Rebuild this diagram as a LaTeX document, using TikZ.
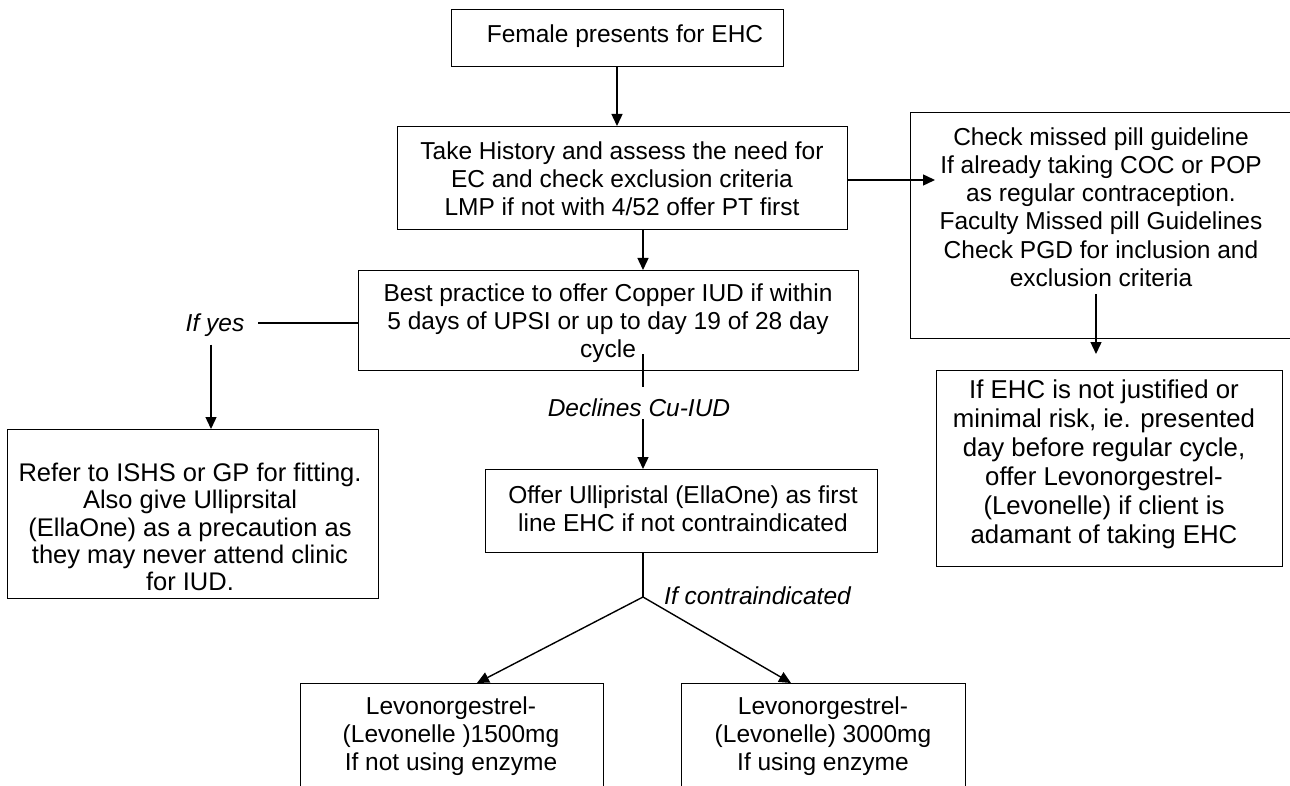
\documentclass[tikz,border=0pt]{standalone}
\usepackage{fontspec}
\setmainfont{Liberation Sans}
\usetikzlibrary{arrows.meta,calc}
\begin{document}
\begin{tikzpicture}[x=1pt,y=-1pt,
  box/.style={draw, line width=1.3pt, inner sep=0pt, anchor=north west},
  txt/.style={align=center, font=\fontsize{24.5}{28.2}\selectfont, inner sep=0pt},
  lbl/.style={font=\fontsize{24.5}{28.2}\selectfont\itshape, inner sep=2pt},
  arr/.style={line width=1.4pt, -{Triangle[length=12pt,width=11pt]}},
  ln/.style={line width=1.4pt}]
\useasboundingbox (0,0) rectangle (1290,786);

% boxes
\node[box, minimum width=332pt, minimum height=57pt] (b1) at (451,9) {};
\node[box, minimum width=450pt, minimum height=103pt] (b2) at (397,126) {};
\node[box, minimum width=500pt, minimum height=100pt] (b3) at (358,270) {};
\node[box, minimum width=383pt, minimum height=226pt] (rb) at (910,112) {};
\node[box, minimum width=346pt, minimum height=196pt] (brb) at (936,370) {};
\node[box, minimum width=371pt, minimum height=169pt] (lb) at (7,429) {};
\node[box, minimum width=392pt, minimum height=83pt] (ub) at (485,469) {};
\node[box, minimum width=303pt, minimum height=120pt] (bl) at (300,683) {};
\node[box, minimum width=284pt, minimum height=120pt] (br) at (681,683) {};

% texts
\node[txt] (t1) at (625,36) {Female presents for EHC};
\node[txt] (t2) at (622,179) {Take History and assess the need for\\EC and check exclusion criteria\\LMP if not with 4/52 offer PT first};
\node[txt] (t3) at (608,323) {Best practice to offer Copper IUD if within\\5 days of UPSI or up to day 19 of 28 day\\cycle};
\node[txt] (trb) at (1101,207) {Check missed pill guideline\\If already taking COC or POP\\as regular contraception.\\Faculty Missed pill Guidelines\\Check PGD for inclusion and\\exclusion criteria};
\node[txt, font=\fontsize{25.8}{29}\selectfont] (tbrb) at (1104,464) {If EHC is not justified or\\minimal risk, ie. presented\\day before regular cycle,\\offer Levonorgestrel-\\(Levonelle) if client is\\adamant of taking EHC};
\node[txt, font=\fontsize{25.5}{27.3}\selectfont] (tlb) at (190,527) {Refer to ISHS or GP for fitting.\\Also give Ulliprsital\\(EllaOne) as a precaution as\\they may never attend clinic\\for IUD.};
\node[txt] (tub) at (683,509) {Offer Ullipristal (EllaOne) as first\\line EHC if not contraindicated};
\node[txt, font=\fontsize{24.5}{27.7}\selectfont] (tbl) at (451,736) {Levonorgestrel-\\(Levonelle )1500mg\\If not using enzyme};
\node[txt, font=\fontsize{24.5}{27.7}\selectfont] (tbr) at (823,736) {Levonorgestrel-\\(Levonelle) 3000mg\\If using enzyme};

% labels
\node[lbl] (ify) at (215,325) {If yes};
\node[lbl] (dec) at (639,408) {Declines Cu-IUD};
\node[lbl, anchor=west, inner sep=0pt] (ifc) at (664,596) {If contraindicated};

% helper coordinates
\coordinate (colA) at (643,0);
\coordinate (apex) at (643,597);
\coordinate (rbs) at (1096,294);
\coordinate (rbe) at (1096,354);
\coordinate (rarr) at (935,180);

% connectors
\draw[arr] (b1.south -| 617,0) -- (b2.north -| 617,0);
\draw[arr] (b2.south -| colA) -- (b3.north -| colA);
\draw[arr] (b2.east |- rarr) -- (rarr);
\draw[ln] (b3.west |- 0,323) -- ($(ify.east |- 0,323)+(12,0)$);
\draw[arr] ($(ify.south -| 211,0)+(0,6)$) -- (lb.north -| 211,0);
\draw[ln] ($(b3.south -| colA)+(0,-17)$) -- ($(b3.south -| colA)+(0,16)$);
\draw[arr] (dec.south -| colA) -- (ub.north -| colA);
\draw[ln] (ub.south -| apex) -- (apex);
\draw[arr] (apex) -- (bl.north -| 477,0);
\draw[arr] (apex) -- (br.north -| 791,0);
\draw[arr] (rbs) -- (rbe);
\end{tikzpicture}
\end{document}
